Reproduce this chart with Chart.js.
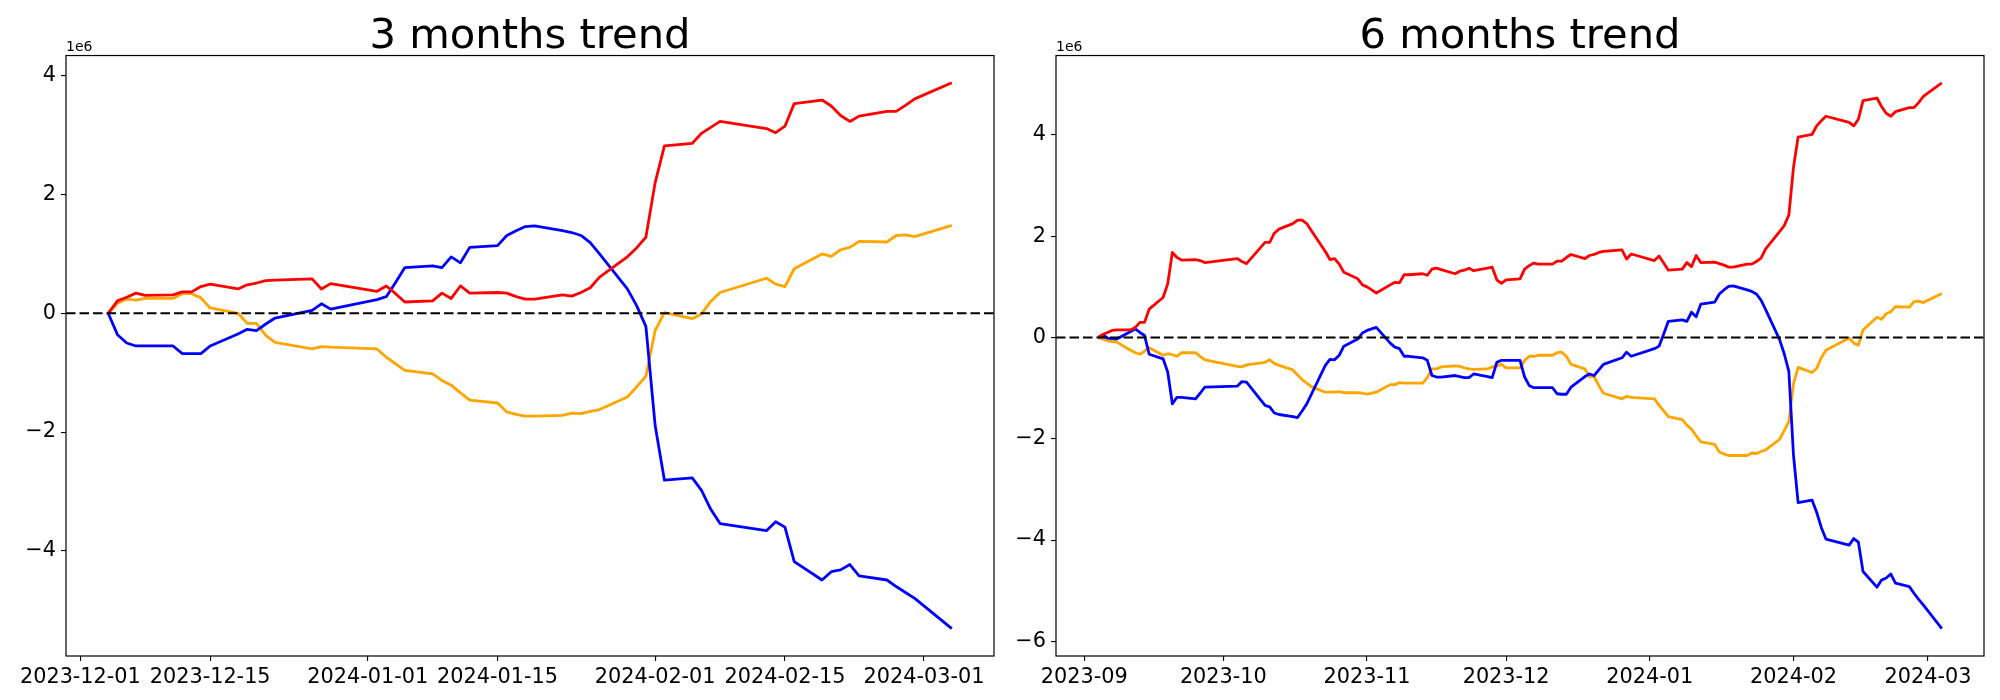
<!DOCTYPE html>
<html><head><meta charset="utf-8">
<script src="https://cdn.jsdelivr.net/npm/chart.js@4.4.0/dist/chart.umd.min.js"></script>
<style>
html,body{margin:0;padding:0;background:#fff;width:2000px;height:700px;overflow:hidden;}
#w1{position:absolute;left:0;top:0;width:1060px;height:700px;}
#w2{position:absolute;left:1000px;top:0;width:1040px;height:700px;}
canvas{display:block;}
</style></head><body>
<div id="w1"><canvas id="c1" width="1060" height="700" style="width:1060px;height:700px"></canvas></div>
<div id="w2"><canvas id="c2" width="1040" height="700" style="width:1040px;height:700px"></canvas></div>
<script>
// ---- 3 months (values in units of 1e6) ----
const dates3 = [
 '2023-12-04','2023-12-05','2023-12-06','2023-12-07','2023-12-08','2023-12-11','2023-12-12','2023-12-13','2023-12-14','2023-12-15',
 '2023-12-18','2023-12-19','2023-12-20','2023-12-21','2023-12-22','2023-12-26','2023-12-27','2023-12-28',
 '2024-01-02','2024-01-03','2024-01-04','2024-01-05','2024-01-08','2024-01-09','2024-01-10','2024-01-11','2024-01-12',
 '2024-01-15','2024-01-16','2024-01-17','2024-01-18','2024-01-19','2024-01-22','2024-01-23','2024-01-24','2024-01-25','2024-01-26',
 '2024-01-29','2024-01-30','2024-01-31',
 '2024-02-01','2024-02-02','2024-02-05','2024-02-06','2024-02-07','2024-02-08','2024-02-13','2024-02-14','2024-02-15','2024-02-16',
 '2024-02-19','2024-02-20','2024-02-21','2024-02-22','2024-02-23','2024-02-26','2024-02-27','2024-02-28','2024-02-29',
 '2024-03-04'];
const red3 = [0,0.21,0.27,0.34,0.30,0.31,0.36,0.36,0.45,0.49,0.41,0.48,0.51,0.55,0.56,0.58,0.41,0.50,
 0.37,0.46,0.33,0.19,0.21,0.34,0.25,0.46,0.34,0.35,0.34,0.28,0.24,0.24,0.31,0.29,0.35,0.43,0.61,0.95,1.10,1.28,
 2.20,2.82,2.86,3.03,3.13,3.23,3.11,3.04,3.15,3.53,3.59,3.49,3.33,3.23,3.32,3.40,3.40,3.50,3.61,
 3.88];
const blue3 = [0,-0.36,-0.50,-0.55,-0.55,-0.55,-0.68,-0.68,-0.68,-0.55,-0.35,-0.27,-0.29,-0.18,-0.08,0.05,0.16,0.07,
 0.23,0.28,0.52,0.77,0.80,0.77,0.95,0.85,1.11,1.14,1.31,1.39,1.46,1.47,1.39,1.36,1.31,1.19,1.00,0.41,0.13,-0.22,
 -1.89,-2.81,-2.77,-2.98,-3.30,-3.54,-3.66,-3.51,-3.60,-4.18,-4.49,-4.35,-4.32,-4.23,-4.42,-4.49,-4.60,-4.70,-4.80,
 -5.31];
const orange3 = [0,0.17,0.24,0.22,0.25,0.25,0.33,0.33,0.26,0.09,0.00,-0.17,-0.17,-0.37,-0.49,-0.60,-0.56,-0.57,
 -0.60,-0.74,-0.85,-0.96,-1.02,-1.13,-1.21,-1.34,-1.46,-1.51,-1.66,-1.70,-1.73,-1.73,-1.72,-1.68,-1.69,-1.65,-1.62,-1.41,-1.24,-1.06,
 -0.29,0.01,-0.09,-0.01,0.20,0.35,0.59,0.49,0.45,0.75,1.00,0.96,1.07,1.11,1.21,1.20,1.31,1.32,1.29,
 1.48];
const tickDates3 = ['2023-12-01','2023-12-15','2024-01-01','2024-01-15','2024-02-01','2024-02-15','2024-03-01'];
const tickLabels3 = ['2023-12-01','2023-12-15','2024-01-01','2024-01-15','2024-02-01','2024-02-15','2024-03-01'];
const yTicks3 = [-4,-2,0,2,4];

// ---- 6 months (values in units of 1e6) ----
const dates6 = [
 '2023-09-04','2023-09-05','2023-09-06','2023-09-07','2023-09-08','2023-09-11','2023-09-12','2023-09-13','2023-09-14','2023-09-15',
 '2023-09-18','2023-09-19','2023-09-20','2023-09-21','2023-09-22','2023-09-25','2023-09-26','2023-09-27',
 '2023-10-04','2023-10-05','2023-10-06','2023-10-10','2023-10-11','2023-10-12','2023-10-13','2023-10-16','2023-10-17','2023-10-18',
 '2023-10-19','2023-10-20','2023-10-23','2023-10-24','2023-10-25','2023-10-26','2023-10-27','2023-10-30','2023-10-31',
 '2023-11-01','2023-11-02','2023-11-03','2023-11-06','2023-11-07','2023-11-08','2023-11-09','2023-11-10','2023-11-13','2023-11-14',
 '2023-11-15','2023-11-16','2023-11-17','2023-11-20','2023-11-21','2023-11-22','2023-11-23','2023-11-24','2023-11-27','2023-11-28',
 '2023-11-29','2023-11-30',
 '2023-12-01','2023-12-04','2023-12-05','2023-12-06','2023-12-07','2023-12-08','2023-12-11','2023-12-12','2023-12-13','2023-12-14',
 '2023-12-15','2023-12-18','2023-12-19','2023-12-20','2023-12-21','2023-12-22','2023-12-26','2023-12-27','2023-12-28',
 '2024-01-02','2024-01-03','2024-01-04','2024-01-05','2024-01-08','2024-01-09','2024-01-10','2024-01-11','2024-01-12',
 '2024-01-15','2024-01-16','2024-01-17','2024-01-18','2024-01-19','2024-01-22','2024-01-23','2024-01-24','2024-01-25','2024-01-26',
 '2024-01-29','2024-01-30','2024-01-31',
 '2024-02-01','2024-02-02','2024-02-05','2024-02-06','2024-02-07','2024-02-08','2024-02-13','2024-02-14','2024-02-15','2024-02-16',
 '2024-02-19','2024-02-20','2024-02-21','2024-02-22','2024-02-23','2024-02-26','2024-02-27','2024-02-28','2024-02-29',
 '2024-03-04'];
const red6 = [0,0.06,0.10,0.14,0.15,0.15,0.20,0.30,0.30,0.56,0.79,1.06,1.68,1.58,1.53,1.54,1.52,1.48,
 1.56,1.50,1.46,1.88,1.88,2.06,2.14,2.25,2.32,2.32,2.25,2.11,1.70,1.54,1.56,1.45,1.29,1.16,1.04,
 1.00,0.94,0.88,1.04,1.09,1.08,1.24,1.24,1.26,1.23,1.35,1.37,1.34,1.26,1.31,1.33,1.37,1.32,1.37,1.39,1.14,1.07,
 1.14,1.16,1.35,1.42,1.47,1.45,1.45,1.51,1.51,1.58,1.64,1.56,1.62,1.64,1.68,1.70,1.73,1.55,1.65,
 1.52,1.61,1.47,1.33,1.35,1.48,1.40,1.62,1.48,1.49,1.46,1.43,1.39,1.39,1.45,1.45,1.50,1.57,1.75,2.09,2.21,2.42,
 3.36,3.96,4.01,4.18,4.28,4.37,4.25,4.18,4.31,4.68,4.73,4.56,4.43,4.37,4.46,4.54,4.54,4.64,4.76,
 5.03];
const blue6 = [0,0.05,-0.01,-0.02,-0.03,0.12,0.17,0.10,0.04,-0.33,-0.42,-0.68,-1.31,-1.18,-1.18,-1.21,-1.10,-0.98,
 -0.96,-0.87,-0.88,-1.34,-1.37,-1.49,-1.52,-1.56,-1.58,-1.45,-1.31,-1.12,-0.55,-0.43,-0.44,-0.35,-0.17,-0.03,0.09,
 0.14,0.17,0.20,-0.11,-0.19,-0.22,-0.37,-0.37,-0.40,-0.45,-0.75,-0.78,-0.78,-0.75,-0.77,-0.79,-0.79,-0.72,-0.77,-0.79,-0.49,-0.45,
 -0.45,-0.45,-0.78,-0.95,-0.99,-0.99,-0.99,-1.11,-1.12,-1.12,-0.98,-0.77,-0.72,-0.75,-0.64,-0.53,-0.40,-0.29,-0.37,
 -0.22,-0.17,0.07,0.32,0.35,0.32,0.50,0.41,0.66,0.70,0.86,0.94,1.01,1.02,0.94,0.91,0.86,0.74,0.55,-0.04,-0.32,-0.67,
 -2.32,-3.26,-3.21,-3.45,-3.75,-3.98,-4.10,-3.97,-4.04,-4.62,-4.93,-4.79,-4.75,-4.67,-4.85,-4.92,-5.05,-5.17,-5.28,
 -5.75];
const orange6 = [0,-0.03,-0.06,-0.08,-0.09,-0.25,-0.30,-0.33,-0.27,-0.20,-0.35,-0.32,-0.34,-0.37,-0.30,-0.30,-0.37,-0.44,
 -0.57,-0.58,-0.54,-0.49,-0.44,-0.51,-0.55,-0.64,-0.74,-0.83,-0.90,-0.97,-1.08,-1.08,-1.08,-1.07,-1.09,-1.09,-1.10,
 -1.12,-1.10,-1.08,-0.93,-0.93,-0.89,-0.90,-0.90,-0.90,-0.79,-0.62,-0.62,-0.58,-0.56,-0.57,-0.60,-0.62,-0.63,-0.62,-0.58,-0.56,-0.53,
 -0.60,-0.60,-0.45,-0.37,-0.37,-0.35,-0.35,-0.30,-0.29,-0.37,-0.53,-0.62,-0.77,-0.77,-0.95,-1.10,-1.21,-1.16,-1.18,
 -1.21,-1.34,-1.45,-1.56,-1.62,-1.73,-1.81,-1.94,-2.06,-2.11,-2.26,-2.30,-2.33,-2.33,-2.33,-2.28,-2.29,-2.25,-2.22,-2.01,-1.84,-1.66,
 -0.91,-0.59,-0.69,-0.61,-0.40,-0.25,-0.01,-0.11,-0.15,0.15,0.40,0.36,0.47,0.51,0.61,0.60,0.71,0.72,0.69,
 0.87];
const tickDates6 = ['2023-09-01','2023-10-01','2023-11-01','2023-12-01','2024-01-01','2024-02-01','2024-03-01'];
const tickLabels6 = ['2023-09','2023-10','2023-11','2023-12','2024-01','2024-02','2024-03'];
const yTicks6 = [-6,-4,-2,0,2,4];

const FONT = "'DejaVu Sans', 'Liberation Sans', sans-serif";

function dayNum(s){ const p = s.split('-').map(Number); return Date.UTC(p[0], p[1]-1, p[2]) / 86400000; }

const zeroLine = {
  id: 'zeroLine',
  afterDatasetsDraw(chart){
    const {ctx, chartArea: a, scales: {y}} = chart;
    const py = y.getPixelForValue(0);
    ctx.save();
    ctx.beginPath();
    ctx.setLineDash([9.5, 4]);
    ctx.lineWidth = 2;
    ctx.strokeStyle = '#000';
    ctx.moveTo(a.left, py); ctx.lineTo(a.right, py);
    ctx.stroke();
    ctx.restore();
  }
};
const frame = {
  id: 'frame',
  afterDraw(chart){
    const {ctx, chartArea: a} = chart;
    ctx.save();
    ctx.lineWidth = 1.2;
    ctx.strokeStyle = '#000';
    ctx.strokeRect(a.left, a.top, a.right - a.left, a.bottom - a.top);
    ctx.fillStyle = '#000';
    ctx.font = '14px ' + FONT;
    ctx.textAlign = 'left';
    ctx.textBaseline = 'bottom';
    ctx.fillText('1e6', a.left, a.top - 1);
    ctx.restore();
  }
};

function makeChart(id, title, dates, red, blue, orange, tickDates, tickLabels, yTicks, yAxisWidth, rightSpace){
  const xs = dates.map(dayNum);
  const all = red.concat(blue, orange);
  const ymin = Math.min(...all), ymax = Math.max(...all), ym = (ymax - ymin) * 0.05;
  const xmin = xs[0], xmax = xs[xs.length - 1], xm = (xmax - xmin) * 0.05;
  const pts = arr => arr.map((v, i) => ({x: xs[i], y: v}));
  const tickVals = tickDates.map(dayNum);
  const ds = (label, data, color) => ({
    label, data: pts(data), borderColor: color, backgroundColor: color,
    borderWidth: 2.8, pointRadius: 0, tension: 0, fill: false,
    borderJoinStyle: 'round', borderCapStyle: 'butt'
  });
  const tickGrid = {display: true, drawOnChartArea: false, drawTicks: true, tickLength: 5, color: '#000', lineWidth: 1.1};
  return new Chart(document.getElementById(id), {
    type: 'line',
    data: {datasets: [ds('red', red, '#ff0000'), ds('blue', blue, '#0000ff'), ds('orange', orange, '#ffa500')]},
    options: {
      responsive: false, animation: false, events: [],
      layout: {padding: 0},
      plugins: {
        legend: {display: false}, tooltip: {enabled: false},
        title: {display: true, text: title, color: '#000', font: {family: FONT, size: 41.7, weight: 'normal', lineHeight: 0.9}, padding: {top: 18, bottom: 0}}
      },
      scales: {
        x: {
          type: 'linear', min: xmin - xm, max: xmax + xm,
          afterBuildTicks: s => { s.ticks = tickVals.map(v => ({value: v})); },
          afterFit: s => { s.height = 44; },
          ticks: {autoSkip: false, maxRotation: 0, minRotation: 0, color: '#000', padding: 4,
                  font: {family: FONT, size: 20.8},
                  callback: (v, i) => tickLabels[i]},
          grid: tickGrid, border: {display: false}
        },
        y: {
          type: 'linear', position: 'left', min: ymin - ym, max: ymax + ym,
          afterBuildTicks: s => { s.ticks = yTicks.map(v => ({value: v})); },
          afterFit: s => { s.width = yAxisWidth; },
          ticks: {color: '#000', padding: 5, font: {family: FONT, size: 20.8},
                  callback: v => v < 0 ? '\u2212' + Math.abs(v) : String(v)},
          grid: tickGrid, border: {display: false}
        },
        // empty spacer on the right so that the title is centred over the plot area
        spacer: {
          type: 'linear', position: 'right', display: true,
          afterFit: s => { s.width = rightSpace; },
          ticks: {display: false}, grid: {display: false}, border: {display: false}
        }
      }
    },
    plugins: [zeroLine, frame]
  });
}

makeChart('c1', '3 months trend', dates3, red3, blue3, orange3, tickDates3, tickLabels3, yTicks3, 66, 66);
makeChart('c2', '6 months trend', dates6, red6, blue6, orange6, tickDates6, tickLabels6, yTicks6, 56, 56);
</script>
</body></html>
